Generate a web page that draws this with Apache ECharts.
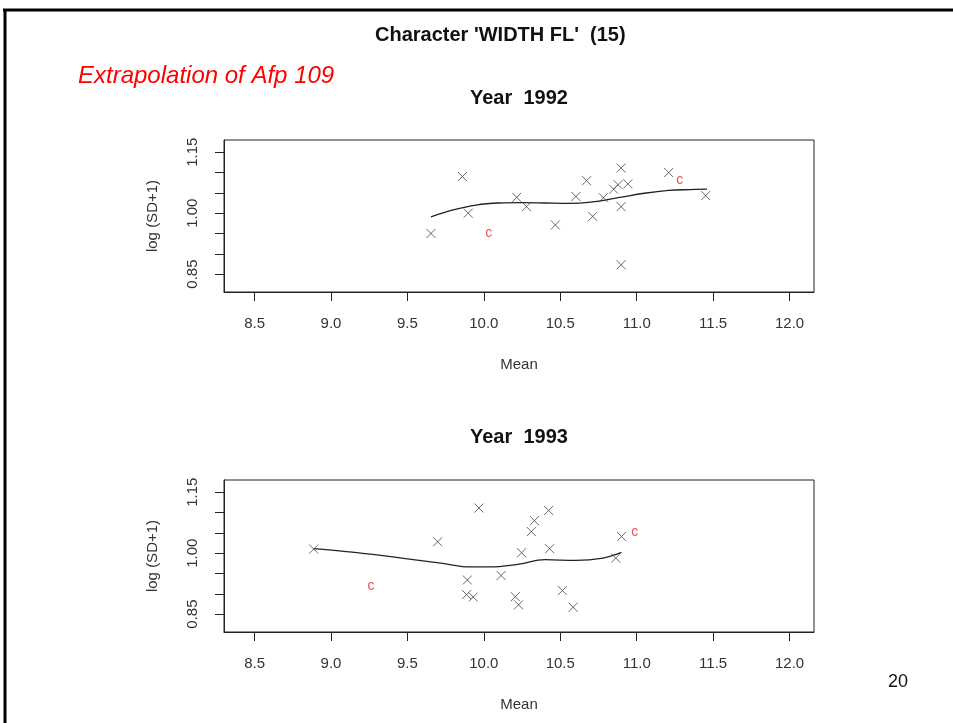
<!DOCTYPE html>
<html>
<head>
<meta charset="utf-8">
<script src="https://cdn.jsdelivr.net/npm/echarts@6/dist/echarts.min.js"></script>
<style>
  html, body { margin: 0; padding: 0; background: #fff; }
  #chart { width: 953px; height: 723px; }
</style>
</head>
<body>
<div id="chart"></div>
<script>
// Tick positions and labels
const xTicks = [8.5, 9.0, 9.5, 10.0, 10.5, 11.0, 11.5, 12.0];
const yTicks = [0.85, 0.90, 0.95, 1.00, 1.05, 1.10, 1.15];
const yLabels = [0.85, 1.00, 1.15];

// Year 1992: observed means and log(SD+1)
const mean1992 = [9.654, 9.860, 9.898, 10.215, 10.279, 10.468, 10.602, 10.672, 10.712, 10.782,
                  10.849, 10.878, 10.898, 10.942, 10.898, 10.898, 11.209, 11.451];
const logsd1992 = [0.950, 1.090, 1.000, 1.039, 1.016, 0.971, 1.041, 1.080, 0.992, 1.038,
                   1.059, 1.070, 1.111, 1.072, 1.016, 0.873, 1.100, 1.043];
// Year 1992: extrapolated points (c)
const extMean1992 = [10.032, 11.282];
const extLogsd1992 = [0.951, 1.082];
// Year 1992: smoothed trend
const trendX1992 = [9.654, 9.80, 9.95, 10.10, 10.25, 10.40, 10.55, 10.70, 10.88, 11.05, 11.21, 11.35, 11.46];
const trendY1992 = [0.991, 1.008, 1.020, 1.025, 1.026, 1.025, 1.024, 1.027, 1.038, 1.049, 1.056, 1.058, 1.059];

// Year 1993: observed means and log(SD+1)
const mean1993 = [8.887, 9.698, 9.892, 9.887, 9.930, 9.968, 10.113, 10.206, 10.227, 10.247,
                  10.311, 10.331, 10.424, 10.430, 10.514, 10.584, 10.863, 10.901];
const logsd1993 = [1.010, 1.028, 0.934, 0.898, 0.892, 1.111, 0.945, 0.893, 0.873, 1.001,
                   1.053, 1.080, 1.105, 1.011, 0.908, 0.867, 0.988, 1.041];
// Year 1993: extrapolated points (c)
const extMean1993 = [9.262, 10.988];
const extLogsd1993 = [0.920, 1.051];
// Year 1993: smoothed trend
const trendX1993 = [8.887, 9.10, 9.30, 9.50, 9.73, 9.91, 10.03, 10.23, 10.40, 10.60, 10.78, 10.90];
const trendY1993 = [1.011, 1.004, 0.996, 0.986, 0.975, 0.966, 0.966, 0.973, 0.984, 0.982, 0.988, 1.002];

const zip = (a, b) => a.map((v, i) => [v, b[i]]);
const crossPath = 'path://M0,0L10,10M10,0L0,10';
const FONT = 'Liberation Sans, Arial, sans-serif';

function makeX(gridIndex) {
  return {
    type: 'value', gridIndex: gridIndex, min: 8.3, max: 12.16,
    name: 'Mean', nameLocation: 'middle', nameGap: 65,
    nameTextStyle: { fontFamily: FONT, fontSize: 15, color: '#333' },
    splitLine: { show: false },
    axisLine: { show: true, lineStyle: { color: '#222', width: 1 } },
    axisTick: { show: true, customValues: xTicks, length: 9, lineStyle: { color: '#222', width: 1 } },
    axisLabel: { customValues: xTicks, formatter: v => v.toFixed(1), fontFamily: FONT, fontSize: 15, color: '#333', margin: 24 }
  };
}
function makeY(gridIndex) {
  return {
    type: 'value', gridIndex: gridIndex, min: 0.806, max: 1.18,
    name: 'log (SD+1)', nameLocation: 'middle', nameGap: 64, nameRotate: 90,
    nameTextStyle: { fontFamily: FONT, fontSize: 15, color: '#333' },
    splitLine: { show: false },
    axisLine: { show: true, lineStyle: { color: '#222', width: 1 } },
    axisTick: { show: true, customValues: yTicks, length: 9, lineStyle: { color: '#222', width: 1 } },
    axisLabel: { customValues: yLabels, formatter: v => v.toFixed(2), rotate: 90, fontFamily: FONT, fontSize: 15, color: '#333', margin: 24 }
  };
}
function crosses(i, x, y) {
  return {
    type: 'scatter', xAxisIndex: i, yAxisIndex: i, data: zip(x, y),
    symbol: crossPath, symbolSize: 9,
    itemStyle: { color: 'none', borderColor: '#444', borderWidth: 1 },
    silent: true, z: 3
  };
}
function extrap(i, x, y) {
  return {
    type: 'scatter', xAxisIndex: i, yAxisIndex: i, data: zip(x, y),
    symbol: 'circle', symbolSize: 1, itemStyle: { color: 'rgba(0,0,0,0)' },
    label: { show: true, position: 'inside', formatter: 'c', color: '#e8202a', fontFamily: FONT, fontSize: 14 },
    silent: true, z: 4
  };
}
function trend(i, x, y) {
  return {
    type: 'line', xAxisIndex: i, yAxisIndex: i, data: zip(x, y),
    smooth: 0.4, symbol: 'none', lineStyle: { color: '#222', width: 1.3 },
    silent: true, z: 2
  };
}

const chart = echarts.init(document.getElementById('chart'), null, { renderer: 'canvas' });
chart.setOption({
  animation: false,
  backgroundColor: '#fff',
  grid: [
    { left: 224, width: 590, top: 140, height: 152, show: true, borderColor: '#222', borderWidth: 1 },
    { left: 224, width: 590, top: 480, height: 152, show: true, borderColor: '#222', borderWidth: 1 }
  ],
  xAxis: [makeX(0), makeX(1)],
  yAxis: [makeY(0), makeY(1)],
  series: [
    trend(0, trendX1992, trendY1992),
    crosses(0, mean1992, logsd1992),
    extrap(0, extMean1992, extLogsd1992),
    trend(1, trendX1993, trendY1993),
    crosses(1, mean1993, logsd1993),
    extrap(1, extMean1993, extLogsd1993)
  ],
  graphic: [
    { type: 'line', shape: { x1: 3, y1: 10, x2: 953, y2: 10 }, style: { stroke: '#000', lineWidth: 3 } },
    { type: 'line', shape: { x1: 5, y1: 10, x2: 5, y2: 723 }, style: { stroke: '#000', lineWidth: 3 } },
    { type: 'text', left: 375, top: 25, style: { text: "Character 'WIDTH FL'  (15)", font: 'bold 20px ' + FONT, fill: '#111' } },
    { type: 'text', left: 78, top: 64, style: { text: 'Extrapolation of Afp 109', font: 'italic 24px ' + FONT, fill: '#ff0000' } },
    { type: 'text', left: 470, top: 88, style: { text: 'Year  1992', font: 'bold 20px ' + FONT, fill: '#111' } },
    { type: 'text', left: 470, top: 427, style: { text: 'Year  1993', font: 'bold 20px ' + FONT, fill: '#111' } },
    { type: 'text', left: 888, top: 673, style: { text: '20', font: '18px ' + FONT, fill: '#111' } }
  ]
});
</script>
</body>
</html>
